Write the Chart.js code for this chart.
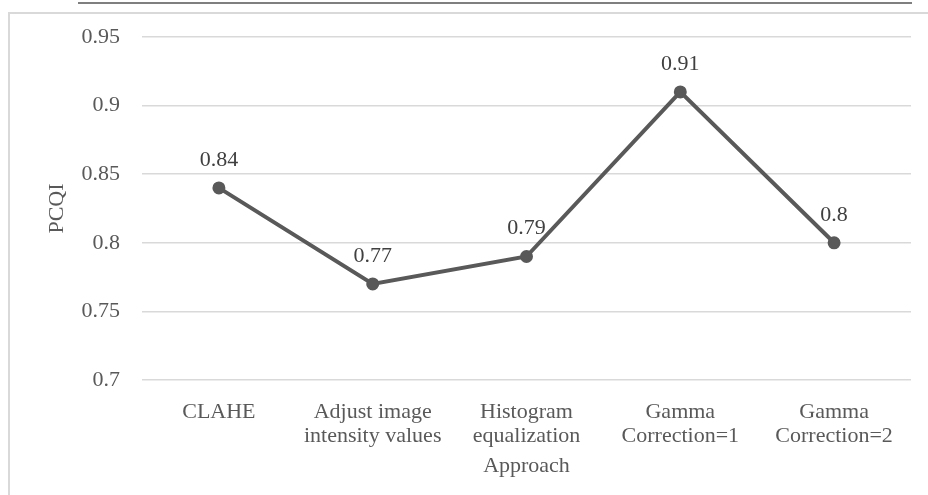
<!DOCTYPE html>
<html lang="en">
<head>
    <meta charset="UTF-8">
    <title>PCQI by approach</title>
    <style>
        body{
            margin: 0px;
            padding: 0px;
            background-color: white;
        }
        #wrap{
            position: relative;
            width: 928px;
            height: 495px;
            overflow: hidden;
        }
        #topline{
            position: absolute;
            left: 78px;
            top: 2px;
            width: 834px;
            height: 2px;
            background-color: #7f7f7f;
        }
        #frame{
            position: absolute;
            left: 8px;
            top: 12px;
            width: 940px;
            height: 500px;
            border-left: 2px solid #d9d9d9;
            border-top: 2px solid #d9d9d9;
        }
        #myChart{
            position: absolute;
            left: 0px;
            top: 0px;
        }
    </style>
</head>
<body>
    <div id="wrap">
        <div id="topline"></div>
        <div id="frame"></div>
        <canvas id="myChart" width="928" height="495"></canvas>
    </div>

    <script src="https://cdn.jsdelivr.net/npm/chart.js@4.4.1/dist/chart.umd.min.js"></script>
    <script>
        // data
        const approaches = [
            'CLAHE',
            ['Adjust image', 'intensity values'],
            ['Histogram', 'equalization'],
            ['Gamma', 'Correction=1'],
            ['Gamma', 'Correction=2']
        ];
        const pcqi = [0.84, 0.77, 0.79, 0.91, 0.8];
        const yTicks = [0.7, 0.75, 0.8, 0.85, 0.9, 0.95];

        const serif = '"Liberation Serif", "Times New Roman", serif';
        const grey = '#595959';
        const fsize = 22;

        // small plugin to write the value above each point
        const valueLabels = {
            id: 'valueLabels',
            afterDatasetsDraw(chart) {
                const ctx = chart.ctx;
                const meta = chart.getDatasetMeta(0);
                ctx.save();
                ctx.font = fsize + 'px ' + serif;
                ctx.fillStyle = '#404040';
                ctx.textAlign = 'center';
                ctx.textBaseline = 'middle';
                meta.data.forEach(function(pt, i) {
                    ctx.fillText(String(pcqi[i]), pt.x, pt.y - 28);
                });
                ctx.restore();
            }
        };

        const ctx = document.getElementById('myChart').getContext('2d');
        const myChart = new Chart(ctx, {
            type: 'line',
            data: {
                labels: approaches,
                datasets: [{
                    label: 'PCQI',
                    data: pcqi,
                    borderColor: grey,
                    backgroundColor: grey,
                    borderWidth: 4,
                    pointRadius: 5.5,
                    pointBorderWidth: 2,
                    pointBackgroundColor: grey,
                    pointBorderColor: grey,
                    tension: 0
                }]
            },
            options: {
                responsive: false,
                animation: false,
                devicePixelRatio: 1,
                layout: {
                    padding: { left: 0, top: 37, right: 17, bottom: 0 }
                },
                plugins: {
                    legend: { display: false },
                    tooltip: { enabled: false }
                },
                scales: {
                    x: {
                        offset: true,
                        grid: { display: false },
                        border: { display: false },
                        ticks: {
                            color: grey,
                            font: { family: serif, size: fsize, lineHeight: 1.09 },
                            padding: 12,
                            maxRotation: 0,
                            autoSkip: false
                        },
                        title: {
                            display: true,
                            text: 'Approach',
                            color: grey,
                            font: { family: serif, size: fsize, lineHeight: 1.09 },
                            padding: { top: 0, bottom: 17 }
                        },
                        afterFit(scale) { scale.height = 115; }
                    },
                    y: {
                        min: 0.7,
                        max: 0.95,
                        afterBuildTicks(scale) {
                            scale.ticks = yTicks.map(v => ({ value: v }));
                        },
                        grid: {
                            color: '#d9d9d9',
                            lineWidth: 1.5,
                            drawTicks: false
                        },
                        border: { display: false },
                        ticks: {
                            color: grey,
                            font: { family: serif, size: fsize },
                            padding: 22,
                            callback: function(v) { return String(Math.round(v * 100) / 100); }
                        },
                        title: {
                            display: true,
                            text: 'PCQI',
                            color: grey,
                            font: { family: serif, size: fsize, lineHeight: 1.09 },
                            padding: { top: 45, bottom: 0 }
                        },
                        afterFit(scale) { scale.width = 142; }
                    }
                }
            },
            plugins: [valueLabels]
        });
    </script>
</body>
</html>
